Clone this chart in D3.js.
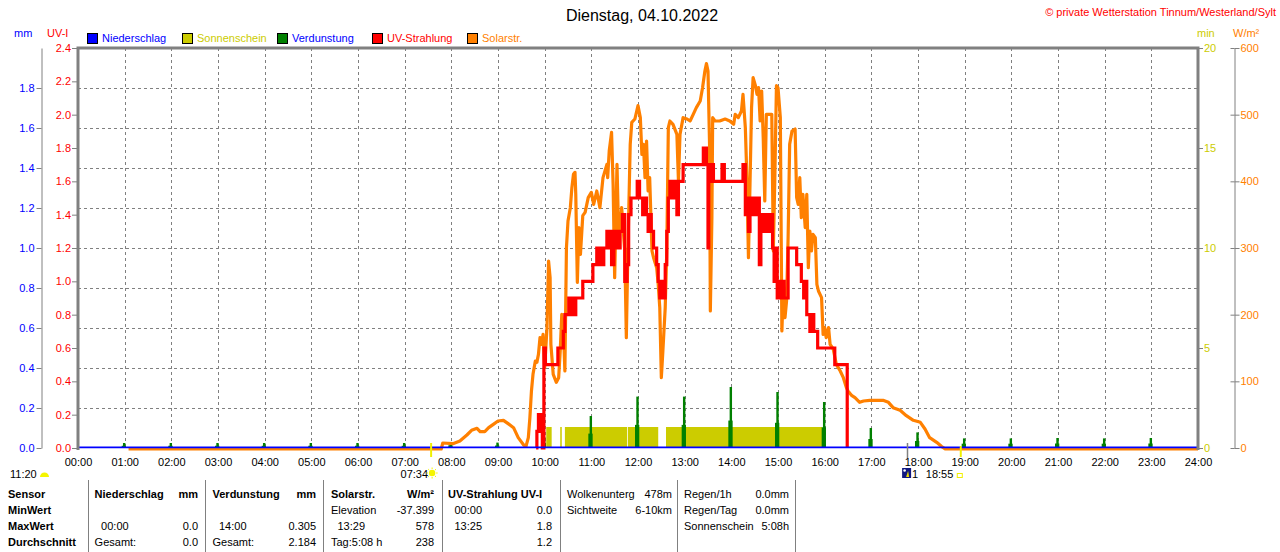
<!DOCTYPE html>
<html><head><meta charset="utf-8">
<script src="https://cdn.jsdelivr.net/npm/d3@7"></script>
<style>
body{margin:0;background:#fff;}
svg{display:block;font-family:"Liberation Sans",Arial,sans-serif;}
</style></head><body>
<svg id="c" width="1280" height="552"></svg>
<script>
// ---------- data ----------
const title = "Dienstag, 04.10.2022";
const copyright = "\u00A9 private Wetterstation Tinnum/Westerland/Sylt";
const legendNames = ["Niederschlag","Sonnenschein","Verdunstung","UV-Strahlung","Solarstr."];
const legendColors = ["#0000ff","#cccc00","#008000","#ff0000","#ff8000"];
const legendTextColors = ["#0000ff","#cccc00","#0000ff","#ff0000","#ff8000"];
const hourTicks = [0,1,2,3,4,5,6,7,8,9,10,11,12,13,14,15,16,17,18,19,20,21,22,23,24];
const hourLabels = ["00:00","01:00","02:00","03:00","04:00","05:00","06:00","07:00","08:00","09:00","10:00","11:00","12:00","13:00","14:00","15:00","16:00","17:00","18:00","19:00","20:00","21:00","22:00","23:00","24:00"];
const uvTicks = [0,0.2,0.4,0.6,0.8,1.0,1.2,1.4,1.6,1.8,2.0,2.2,2.4];
const mmTicks = [0,0.2,0.4,0.6,0.8,1.0,1.2,1.4,1.6,1.8];
const minTicks = [0,5,10,15,20];
const wTicks = [0,100,200,300,400,500,600];

// Niederschlag (mm), hourly
const rainHour = [0,1,2,3,4,5,6,7,8,9,10,11,12,13,14,15,16,17,18,19,20,21,22,23,24];
const rainVal  = [0,0,0,0,0,0,0,0,0,0,0,0,0,0,0,0,0,0,0,0,0,0,0,0,0];

// Sonnenschein (min) periods, minutes of day
const sunStart = [602,620,626,707,756];
const sunEnd   = [609,622,706,746,957];
const sunVal   = [1.05,1.05,1.05,1.05,1.05];

// Verdunstung (mm) per hour
const evapHour = [1,2,3,4,5,6,7,8,9,10,11,12,13,14,15,16,17,18,19,20,21,22,23];
const evapVal  = [0.025,0.025,0.025,0.025,0.025,0.025,0.025,0.03,0.027,0.055,0.16,0.257,0.257,0.305,0.28,0.23,0.10,0.078,0.048,0.048,0.05,0.048,0.05];

// UV-Strahlung (UV-I), minutes of day
const uvMin = [589,590,592,594,595,597,599,601,617,624,626,631,633,635,637,640,649,662,667,668,671,673,676,680,682,684,686,689,693,697,700,703,706,708,711,719,722,726,729,731,733,735,737,740,744,746,748,751,753,755,757,759,761,765,767,770,772,775,778,804,808,810,811,813,815,817,828,831,855,858,860,862,864,866,868,870,874,876,878,882,884,886,889,893,895,897,899,901,903,906,908,913,924,930,933,935,937,941,943,946,951,973,989];
const uvVal = [0,0.1,0.2,0.1,0.2,0,0.6,0.5,0.6,0.7,0.8,0.9,0.8,0.9,0.8,0.9,1.0,1.1,1.2,1.1,1.2,1.1,1.2,1.3,1.2,1.3,1.1,1.3,1.2,1.3,1.4,1.0,1.1,1.4,1.5,1.6,1.5,1.4,1.5,1.4,1.3,1.4,1.3,1.2,1.1,1.0,0.9,1.0,0.9,1.1,1.3,1.5,1.6,1.5,1.6,1.4,1.6,1.6,1.7,1.8,1.7,1.2,1.7,1.6,1.7,1.6,1.7,1.6,1.7,1.4,1.5,1.3,1.5,1.4,1.5,1.4,1.5,1.1,1.4,1.3,1.4,1.3,1.4,1.2,1.0,1.2,0.9,1.0,0.9,1.0,0.9,1.2,1.1,1.0,0.9,1.0,0.8,0.7,0.8,0.7,0.6,0.5,0];

// Solarstrahlung (W/m²), minutes of day
const solarMin = [65,467,469,482,491,500,506,513,517,523,528,534,540,547,553,560,566,573,576,579,581,583,585,588,590,592,594,596,598,600,603,605,607,608,611,615,618,620,622,624,626,628,630,633,635,637,639,640,642,644,646,649,652,656,660,663,667,671,675,680,681,683,686,688,690,693,695,697,699,702,703,705,707,710,712,716,720,723,725,727,729,731,733,735,738,740,744,746,748,750,752,755,757,759,761,765,770,772,774,778,783,787,791,795,800,803,806,808,810,812,813,815,816,819,825,832,838,843,845,849,853,855,858,860,862,864,866,868,871,873,875,877,879,881,883,885,892,894,896,898,900,903,905,907,909,911,913,915,918,922,924,926,928,930,932,935,937,939,941,943,945,948,950,952,956,958,960,962,965,967,971,975,980,984,988,990,995,999,1005,1010,1018,1035,1042,1048,1057,1065,1074,1083,1089,1095,1104,1110,1115,1440];
const solarVal = [0,0,9,8,12,21,28,31,26,26,32,37,42,43,38,32,17,6,4,17,47,87,112,132,130,142,167,157,172,122,182,282,257,157,112,100,107,147,202,182,117,302,342,362,392,412,415,382,250,332,292,350,355,377,385,367,387,362,407,427,407,447,475,397,257,427,327,327,362,312,297,167,297,457,490,495,515,497,442,457,407,462,387,407,297,287,272,247,212,107,147,212,297,482,492,487,472,402,472,497,495,492,502,512,522,542,567,578,567,457,207,347,497,492,492,495,492,487,502,497,507,532,482,407,287,397,512,557,545,532,542,492,537,467,372,502,502,297,412,545,542,497,177,247,197,222,317,457,477,480,377,367,407,347,382,332,382,272,327,297,322,317,247,237,227,172,182,167,182,157,150,127,117,107,92,87,80,77,70,72,73,73,70,62,58,50,43,40,30,17,10,4,0,0];

// events below the axis (minutes of day)
const sunriseMin = 454, sunriseLabel = "07:34";
const sunsetMin = 1135, sunsetLabel = "18:55";
const dayLengthLabel = "11:20";
const moonMin = 1066, moonLabel = "1";

// table
const tableRows = ["Sensor","MinWert","MaxWert","Durchschnitt"];
const colHeads = [["Niederschlag","mm"],["Verdunstung","mm"],["Solarstr.","W/m\u00B2"],["UV-Strahlung UV-I",""]];
const colLeft  = [["","00:00","Gesamt:"],["","14:00","Gesamt:"],["Elevation","13:29","Tag:5:08 h"],["00:00","13:25",""]];
const colRight = [["","0.0","0.0"],["","0.305","2.184"],["-37.399","578","238"],["0.0","1.8","1.2"]];
const extraLeft  = [["Wolkenunterg","Sichtweite",""],["Regen/1h","Regen/Tag","Sonnenschein"]];
const extraRight = [["478m","6-10km",""],["0.0mm","0.0mm","5:08h"]];

// ---------- drawing ----------
const svg = d3.select("#c");
const L = 78, R = 1198, T = 48, B = 448;
const x = d3.scaleLinear().domain([0,1440]).range([L,R]);
const xh = d3.scaleLinear().domain([0,24]).range([L,R]);
const yUV = d3.scaleLinear().domain([0,2.4]).range([B,T]);
const yMM = d3.scaleLinear().domain([0,2.0]).range([B,T]);
const yMin = d3.scaleLinear().domain([0,20]).range([B,T]);
const yW = d3.scaleLinear().domain([0,600]).range([B,T]);
const grey = "#808080";
const FS = "11px";

// title
svg.append("text").attr("x",642).attr("y",21).attr("text-anchor","middle")
  .style("font-size","16px").attr("fill","#000").text(title);
svg.append("text").attr("x",1276).attr("y",16).attr("text-anchor","end")
  .style("font-size","11px").attr("fill","#ff0000").text(copyright);

// legend
const lg = svg.append("g");
legendNames.forEach((n,i)=>{
  const gx = 87 + i*95;
  lg.append("rect").attr("x",gx+0.5).attr("y",33.5).attr("width",10).attr("height",10)
    .attr("fill",legendColors[i]).attr("stroke","#000").attr("stroke-width",1);
  lg.append("text").attr("x",gx+15).attr("y",42).style("font-size",FS)
    .attr("fill",legendTextColors[i]).text(n);
});
// axis titles
svg.append("text").attr("x",14).attr("y",37).style("font-size",FS).attr("fill","#0000ff").text("mm");
svg.append("text").attr("x",47).attr("y",37).style("font-size",FS).attr("fill","#ff0000").text("UV-I");
svg.append("text").attr("x",1197).attr("y",37).style("font-size",FS).attr("fill","#cccc00").text("min");
svg.append("text").attr("x",1233).attr("y",37).style("font-size",FS).attr("fill","#ff8000").text("W/m\u00B2");

// grid
const grid = svg.append("g").attr("stroke",grey).attr("stroke-width",1).attr("stroke-dasharray","3,3");
hourTicks.slice(1,24).forEach(h=>{
  grid.append("line").attr("x1",Math.round(xh(h))+0.5).attr("x2",Math.round(xh(h))+0.5)
    .attr("y1",T).attr("y2",B);
});
mmTicks.slice(1).forEach(v=>{
  grid.append("line").attr("x1",L).attr("x2",R)
    .attr("y1",Math.round(yMM(v))+0.5).attr("y2",Math.round(yMM(v))+0.5);
});

// sunshine
svg.append("g").selectAll("rect").data(sunStart).join("rect")
  .attr("x",(d,i)=>x(sunStart[i])).attr("width",(d,i)=>x(sunEnd[i])-x(sunStart[i]))
  .attr("y",(d,i)=>yMin(sunVal[i])).attr("height",(d,i)=>yMin(0)-yMin(sunVal[i]))
  .attr("fill","#cccc00");

// evaporation spikes
const eg = svg.append("g").attr("fill","#008000");
evapHour.forEach((h,i)=>{
  const cx = xh(h), v = evapVal[i];
  eg.append("rect").attr("x",cx-3).attr("width",4.3)
    .attr("y",yMM(v*0.45)).attr("height",yMM(0)-yMM(v*0.45));
  eg.append("rect").attr("x",cx-1.7).attr("width",2.4)
    .attr("y",yMM(v)).attr("height",yMM(0)-yMM(v));
});

// solar
const solarData = solarMin.map((m,i)=>[m,solarVal[i]]);
svg.append("path").datum(solarData)
  .attr("d",d3.line().x(d=>x(d[0])).y(d=>yW(d[1])))
  .attr("fill","none").attr("stroke","#ff8000").attr("stroke-width",3.2)
  .attr("stroke-linejoin","round").attr("transform","translate(0,1)");

// UV
const uvData = uvMin.map((m,i)=>[m,uvVal[i]]);
svg.append("path").datum(uvData)
  .attr("d",d3.line().curve(d3.curveStepAfter).x(d=>x(d[0])).y(d=>yUV(d[1])))
  .attr("fill","none").attr("stroke","#ff0000").attr("stroke-width",3.2);

// precipitation
const rainData = rainHour.map((h,i)=>[h,rainVal[i]]);
svg.append("path").datum(rainData)
  .attr("d",d3.line().x(d=>xh(d[0])).y(d=>yMM(d[1])))
  .attr("fill","none").attr("stroke","#0000ff").attr("stroke-width",1.6)
  .attr("transform","translate(0,-0.6)");

// plot frame
svg.append("path").attr("d",`M${L},${B+2}V${T}H${R}V${B+2}`)
  .attr("fill","none").attr("stroke",grey).attr("stroke-width",3);

function styleAxis(g,color){
  g.selectAll("text").style("font-size",FS).style("font-family",'"Liberation Sans",Arial,sans-serif').attr("fill",color);
  g.selectAll("line").attr("stroke",grey);
  g.selectAll(".domain").attr("stroke",grey);
}
// UV axis (left, at frame)
const gUV = svg.append("g").attr("transform",`translate(${L-1},0)`)
  .call(d3.axisLeft(yUV).tickValues(uvTicks).tickFormat(d3.format(".1f")).tickSize(5).tickPadding(1));
gUV.select(".domain").remove();
styleAxis(gUV,"#ff0000");
// mm axis
const gMM = svg.append("g").attr("transform","translate(41.5,0)")
  .call(d3.axisLeft(yMM).tickValues(mmTicks).tickFormat(d3.format(".1f")).tickSize(5).tickSizeOuter(0).tickPadding(2));
styleAxis(gMM,"#0000ff");
// min axis
const gMin = svg.append("g").attr("transform",`translate(${R+1},0)`)
  .call(d3.axisRight(yMin).tickValues(minTicks).tickSize(4).tickPadding(1));
gMin.select(".domain").remove();
styleAxis(gMin,"#cccc00");
// W axis
const gW = svg.append("g").attr("transform","translate(1234.5,0)")
  .call(d3.axisRight(yW).tickValues(wTicks).tickSize(5).tickSizeOuter(0).tickPadding(1));
styleAxis(gW,"#ff8000");
const gW2 = svg.append("g").attr("transform","translate(1234.5,0)")
  .call(d3.axisLeft(yW).tickValues(wTicks).tickSize(4).tickSizeOuter(0).tickFormat(""));
gW2.select(".domain").remove();
styleAxis(gW2,"#ff8000");

// x axis
const gX = svg.append("g").attr("transform",`translate(0,${B})`)
  .call(d3.axisBottom(xh).tickValues(hourTicks).tickFormat((d,i)=>hourLabels[i]).tickSize(0).tickPadding(10));
gX.select(".domain").remove();
styleAxis(gX,"#000");

// sunrise / sunset markers
svg.append("line").attr("x1",x(sunriseMin)).attr("x2",x(sunriseMin)).attr("y1",443).attr("y2",457)
  .attr("stroke","#f0f000").attr("stroke-width",2);
svg.append("line").attr("x1",x(sunsetMin)).attr("x2",x(sunsetMin)).attr("y1",446).attr("y2",457)
  .attr("stroke","#f0f000").attr("stroke-width",2);
svg.append("line").attr("x1",Math.round(x(moonMin))+0.5).attr("x2",Math.round(x(moonMin))+0.5).attr("y1",443).attr("y2",458)
  .attr("stroke",grey).attr("stroke-width",1.5);

// bottom labels with icons
svg.append("text").attr("x",10).attr("y",478).style("font-size",FS).text(dayLengthLabel);
svg.append("path").attr("d","M40,477 A4.5,4.5 0 0 1 49,477 Z").attr("fill","#f5f500");
svg.append("text").attr("x",x(sunriseMin)-3).attr("y",478).attr("text-anchor","end").style("font-size",FS).text(sunriseLabel);
const sr = svg.append("g").attr("transform",`translate(${x(sunriseMin)+1},${473})`);
sr.append("circle").attr("r",3.2).attr("fill","#f5f500");
d3.range(8).forEach(k=>{const a=k*Math.PI/4;
  sr.append("line").attr("x1",Math.cos(a)*4).attr("y1",Math.sin(a)*4).attr("x2",Math.cos(a)*5.5).attr("y2",Math.sin(a)*5.5)
    .attr("stroke","#f5f500").attr("stroke-width",1);});
// moon icon
const mi = svg.append("g").attr("transform",`translate(${x(moonMin)-5},468)`);
mi.append("rect").attr("width",9).attr("height",10).attr("fill","#101880");
mi.append("path").attr("d","M4,9 L6,3 L7,9 Z").attr("fill","#f0e000");
mi.append("circle").attr("cx",2.5).attr("cy",2.5).attr("r",1.3).attr("fill","#ffffff");
svg.append("text").attr("x",x(moonMin)+5).attr("y",478).style("font-size",FS).text(moonLabel);
svg.append("text").attr("x",x(sunsetMin)-35).attr("y",478).style("font-size",FS).text(sunsetLabel);
svg.append("rect").attr("x",x(sunsetMin)-3.5).attr("y",473.5).attr("width",5).attr("height",4)
  .attr("fill","none").attr("stroke","#f0f000").attr("stroke-width",1);

// table
const rowY = [498,514,530,546];
const tb = svg.append("g").style("font-size",FS);
[88,205,323,442,560,677,795].forEach(sx=>{
  tb.append("line").attr("x1",sx+0.5).attr("x2",sx+0.5).attr("y1",480).attr("y2",552)
    .attr("stroke",grey).attr("stroke-width",1);
});
tableRows.forEach((r,i)=>{
  tb.append("text").attr("x",8).attr("y",rowY[i]).style("font-weight","bold").text(r);
});
const gLeft = [94.6,212.5,331,448];
const gRight = [198,316,434,552];
colHeads.forEach((hd,g)=>{
  tb.append("text").attr("x",gLeft[g]).attr("y",rowY[0]).style("font-weight","bold").text(hd[0]);
  if(hd[1]) tb.append("text").attr("x",gRight[g]).attr("y",rowY[0]).attr("text-anchor","end").style("font-weight","bold").text(hd[1]);
  colLeft[g].forEach((t,r)=>{
    if(!t) return;
    const ind = /^\d\d:\d\d$/.test(t) ? 6.5 : 0;
    tb.append("text").attr("x",gLeft[g]+ind).attr("y",rowY[r+1]).text(t);
  });
  colRight[g].forEach((t,r)=>{
    if(!t) return;
    tb.append("text").attr("x",gRight[g]).attr("y",rowY[r+1]).attr("text-anchor","end").text(t);
  });
});
const eLeft = [567,684], eRight = [672,789];
extraLeft.forEach((col,g)=>{
  col.forEach((t,r)=>{ if(t) tb.append("text").attr("x",eLeft[g]).attr("y",rowY[r]).text(t); });
  extraRight[g].forEach((t,r)=>{ if(t) tb.append("text").attr("x",eRight[g]).attr("y",rowY[r]).attr("text-anchor","end").text(t); });
});
</script>
</body></html>
